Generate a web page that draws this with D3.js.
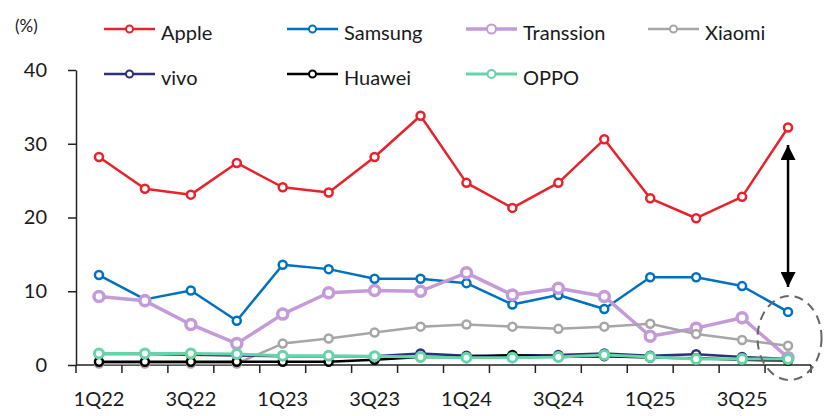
<!DOCTYPE html>
<html>
<head>
<meta charset="utf-8">
<script src="https://cdn.jsdelivr.net/npm/d3@7"></script>
<style>
  body { margin: 0; background: #fff; }
  text { font-family: Lato, "Noto Sans", sans-serif; fill: #1a1a1a; }
</style>
</head>
<body>
<script>
var width = 824, height = 416;

var quarters = ["1Q22","2Q22","3Q22","4Q22","1Q23","2Q23","3Q23","4Q23",
                "1Q24","2Q24","3Q24","4Q24","1Q25","2Q25","3Q25","4Q25"];

var apple     = [28.2,23.9,23.1,27.4,24.1,23.4,28.2,33.8,24.7,21.3,24.7,30.6,22.6,19.9,22.8,32.2];
var samsung   = [12.2,8.9,10.1,6.0,13.6,13.0,11.7,11.7,11.1,8.2,9.5,7.6,11.9,11.9,10.7,7.2];
var transsion = [9.3,8.7,5.5,2.9,6.9,9.8,10.1,10.0,12.5,9.5,10.4,9.3,3.9,5.0,6.4,1.0];
var xiaomi    = [0.2,0.2,0.2,0.2,2.9,3.6,4.4,5.2,5.5,5.2,4.9,5.2,5.6,4.2,3.4,2.6];
var vivo      = [1.5,1.5,1.4,1.3,1.2,1.2,1.2,1.55,1.25,1.3,1.35,1.55,1.25,1.45,1.1,0.8];
var huawei    = [0.45,0.45,0.45,0.45,0.45,0.45,0.7,1.1,1.1,1.35,1.1,1.2,1.0,0.9,0.7,0.6];
var oppo      = [1.55,1.55,1.55,1.5,1.25,1.25,1.2,1.1,1.0,1.0,1.1,1.35,1.1,0.8,0.8,0.8];

var yTicks = [0,10,20,30,40];

var series = [
  {name:"Apple",     values:apple,     color:"#E8212B", w:2.5, r:4},
  {name:"Samsung",   values:samsung,   color:"#0070C0", w:2.5, r:4},
  {name:"Transsion", values:transsion, color:"#C39BD8", w:3.5, r:5},
  {name:"Xiaomi",    values:xiaomi,    color:"#A6A6A6", w:2.5, r:4},
  {name:"vivo",      values:vivo,      color:"#2E3175", w:2.5, r:4},
  {name:"Huawei",    values:huawei,    color:"#000000", w:2.5, r:4},
  {name:"OPPO",      values:oppo,      color:"#66D3A8", w:3,   r:4.5}
];

var svg = d3.select("body").append("svg")
  .attr("width", width).attr("height", height);

var x = d3.scaleBand().domain(quarters).range([76, 811]);
var y = d3.scaleLinear().domain([0, 40]).range([365, 70]);

// y axis
var yAxis = svg.append("g")
  .attr("transform", "translate(76,0)")
  .call(d3.axisLeft(y).tickValues(yTicks).tickSize(8).tickSizeOuter(0).tickPadding(21));
yAxis.select(".domain").attr("stroke", "#222").attr("stroke-width", 1.5);
yAxis.selectAll(".tick line").attr("stroke", "#222").attr("stroke-width", 1.5);
yAxis.selectAll("text").style("font-size", "20px").attr("fill", "#1a1a1a");

// x axis line + ticks at band edges
var xg = svg.append("g");
xg.append("line")
  .attr("x1", x.range()[0]).attr("x2", x.range()[1])
  .attr("y1", y(0)).attr("y2", y(0))
  .attr("stroke", "#222").attr("stroke-width", 1.5);
var edges = quarters.map(function(q){ return x(q); }).concat([x.range()[1]]);
xg.selectAll(".xt").data(edges).enter().append("line")
  .attr("x1", function(d){ return d; }).attr("x2", function(d){ return d; })
  .attr("y1", y(0)).attr("y2", y(0) + 8)
  .attr("stroke", "#222").attr("stroke-width", 1.5);
xg.selectAll(".xl").data(quarters.filter(function(q, i){ return i % 2 == 0; }))
  .enter().append("text")
  .attr("x", function(d){ return x(d) + x.bandwidth()/2; })
  .attr("y", 406)
  .attr("text-anchor", "middle")
  .style("font-size", "20px")
  .text(function(d){ return d; });

// lines
var line = d3.line()
  .x(function(d, i){ return x(quarters[i]) + x.bandwidth()/2; })
  .y(function(d){ return y(d); });

series.forEach(function(s){
  var g = svg.append("g");
  g.append("path")
    .attr("d", line(s.values))
    .attr("fill", "none")
    .attr("stroke", s.color)
    .attr("stroke-width", s.w)
    .attr("stroke-linejoin", "round");
  g.selectAll("circle").data(s.values).enter().append("circle")
    .attr("cx", function(d, i){ return x(quarters[i]) + x.bandwidth()/2; })
    .attr("cy", function(d){ return y(d); })
    .attr("r", s.r)
    .attr("fill", "#fff")
    .attr("stroke", s.color)
    .attr("stroke-width", s.w);
});

// legend
var legX = [104, 287, 466, 648];
var legY = [29, 74];
series.forEach(function(s, i){
  var lx = legX[i % 4], ly = legY[Math.floor(i / 4)];
  var lg = svg.append("g");
  lg.append("line")
    .attr("x1", lx).attr("x2", lx + 51)
    .attr("y1", ly).attr("y2", ly)
    .attr("stroke", s.color).attr("stroke-width", s.w);
  lg.append("circle")
    .attr("cx", lx + 25.5).attr("cy", ly)
    .attr("r", s.r - 0.5)
    .attr("fill", "#fff").attr("stroke", s.color).attr("stroke-width", 2);
  lg.append("text")
    .attr("x", lx + 57).attr("y", ly + 11)
    .style("font-size", "20px")
    .text(s.name);
});

svg.append("text")
  .attr("x", 15).attr("y", 32)
  .style("font-size", "17px")
  .text("(%)");

// annotation: arrow and dashed ellipse
var ax = x("4Q25") + x.bandwidth()/2;
var defs = svg.append("defs");
defs.append("marker").attr("id", "ah")
  .attr("viewBox", "0 0 10 10").attr("refX", 10).attr("refY", 5)
  .attr("markerWidth", 15).attr("markerHeight", 15)
  .attr("markerUnits", "userSpaceOnUse")
  .attr("orient", "auto-start-reverse")
  .append("path").attr("d", "M0,0 L10,5 L0,10 Z").attr("fill", "#000");
svg.append("line")
  .attr("x1", ax).attr("x2", ax)
  .attr("y1", 145).attr("y2", 287)
  .attr("stroke", "#000").attr("stroke-width", 2.5)
  .attr("marker-start", "url(#ah)")
  .attr("marker-end", "url(#ah)");

svg.append("ellipse")
  .attr("cx", ax + 1.5).attr("cy", 338)
  .attr("rx", 32).attr("ry", 42)
  .attr("fill", "none")
  .attr("stroke", "#666")
  .attr("stroke-width", 2)
  .attr("stroke-dasharray", "9,6");
</script>
</body>
</html>
